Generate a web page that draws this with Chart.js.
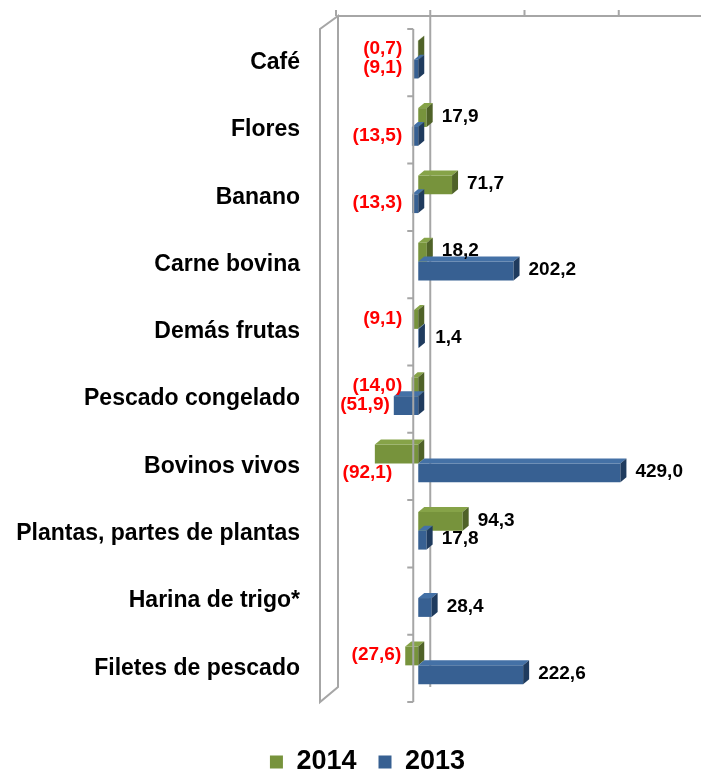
<!DOCTYPE html>
<html>
<head>
<meta charset="utf-8">
<script src="https://cdn.jsdelivr.net/npm/chart.js@4.4.0/dist/chart.umd.min.js"></script>
<style>
  body { margin: 0; background: #fff; }
  #wrap { width: 701px; height: 777px; }
</style>
</head>
<body>
<div id="wrap"><canvas id="exports-chart"></canvas></div>
<script>
const categories = ['Café', 'Flores', 'Banano', 'Carne bovina', 'Demás frutas', 'Pescado congelado',
    'Bovinos vivos', 'Plantas, partes de plantas', 'Harina de trigo*', 'Filetes de pescado'];
const values2014 = [-0.7, 17.9, 71.7, 18.2, -9.1, -14.0, -92.1, 94.3, null, -27.6];
const values2013 = [-9.1, -13.5, -13.3, 202.2, 1.4, -51.9, 429.0, 17.8, 28.4, 222.6];
const valueTicks = [-200, 0, 200, 400];

const FONT = 'Arial, "Liberation Sans", sans-serif';
const GRAY = '#a6a6a6';

// colours per series: front face, top face, end face
const shades = [
    { front: '#77933c', top: '#86a348', side: '#4f6228' },
    { front: '#376092', top: '#4471a6', side: '#1f3b5e' },
];

// 1,4 / (13,5)
const formatValue = (v) => {
    const txt = Math.abs(v).toFixed(1).replace('.', ',');
    return v < 0 ? `(${txt})` : txt;
}

const bar3d = {
    id: 'bar3d',
    afterLayout(chart) {
        // legend sits a little right of the canvas centre
        chart.legend.left += 17;
        chart.legend.right += 17;
    },
    beforeDatasetsDraw(chart) {
        const { ctx, chartArea, scales: { x } } = chart;
        const zero = x.getPixelForValue(0);
        const wallFront = chartArea.left - 4;
        const wallBack = x.getPixelForValue(-200) + 14;
        const backTop = chartArea.top - 13;
        const backBottom = chartArea.bottom - 15;

        ctx.save();
        ctx.strokeStyle = GRAY;
        ctx.lineWidth = 2;

        // left wall
        ctx.beginPath();
        ctx.moveTo(wallFront, chartArea.bottom);
        ctx.lineTo(wallFront, chartArea.top);
        ctx.lineTo(wallBack, backTop);
        ctx.lineTo(wallBack, backBottom);
        ctx.closePath();
        ctx.stroke();

        // top edge of the back wall with its ticks
        ctx.beginPath();
        ctx.moveTo(wallBack, backTop);
        ctx.lineTo(chartArea.right, backTop);
        for (const t of valueTicks) {
            const px = x.getPixelForValue(t) + 12;
            ctx.moveTo(px, backTop);
            ctx.lineTo(px, backTop - 6);
        }
        ctx.stroke();

        // zero line on the back wall
        ctx.beginPath();
        ctx.moveTo(zero + 12, backTop);
        ctx.lineTo(zero + 12, backBottom);
        ctx.stroke();
        ctx.restore();

        ctx.save();
        ctx.translate(0, -3);
    },
    afterDatasetsDraw(chart) {
        const { ctx } = chart;
        const dx = 6, dy = -5;

        chart.data.datasets.forEach((ds, di) => {
            const meta = chart.getDatasetMeta(di);
            const c = shades[di];
            meta.data.forEach((bar, i) => {
                if (ds.data[i] === null) return;
                const { x, y, base, height } = bar.getProps(['x', 'y', 'base', 'height'], true);
                const left = Math.min(x, base);
                const right = Math.max(x, base);
                const top = y - height / 2;
                const bottom = y + height / 2;

                ctx.fillStyle = c.top;
                ctx.beginPath();
                ctx.moveTo(left, top);
                ctx.lineTo(right, top);
                ctx.lineTo(right + dx, top + dy);
                ctx.lineTo(left + dx, top + dy);
                ctx.closePath();
                ctx.fill();

                ctx.fillStyle = c.side;
                ctx.beginPath();
                ctx.moveTo(right, top);
                ctx.lineTo(right + dx, top + dy);
                ctx.lineTo(right + dx, bottom + dy);
                ctx.lineTo(right, bottom);
                ctx.closePath();
                ctx.fill();
            });
        });

        // value labels
        ctx.font = `bold 19px ${FONT}`;
        ctx.textBaseline = 'middle';
        chart.data.datasets.forEach((ds, di) => {
            const meta = chart.getDatasetMeta(di);
            meta.data.forEach((bar, i) => {
                const v = ds.data[i];
                if (v === null) return;
                const { x, y, base, height } = bar.getProps(['x', 'y', 'base', 'height'], true);
                if (v >= 0) {
                    ctx.fillStyle = '#000';
                    ctx.textAlign = 'left';
                    ctx.fillText(formatValue(v), Math.max(x + 15, base + 17), y - 1);
                } else if (base - x > 40) {
                    ctx.fillStyle = '#ff0000';
                    ctx.textAlign = 'right';
                    ctx.fillText(formatValue(v), base - 26, y + height);
                } else {
                    ctx.fillStyle = '#ff0000';
                    ctx.textAlign = 'right';
                    ctx.fillText(formatValue(v), Math.min(base - 16, x - 4), y - 1);
                }
            });
        });
        ctx.restore();

        // front category axis
        const { chartArea, scales } = chart;
        const axisX = scales.x.getPixelForValue(0) - 5;
        const step = scales.y.getPixelForValue(1) - scales.y.getPixelForValue(0);
        ctx.save();
        ctx.strokeStyle = GRAY;
        ctx.lineWidth = 2;
        ctx.beginPath();
        ctx.moveTo(axisX, chartArea.top);
        ctx.lineTo(axisX, chartArea.bottom);
        for (let i = 0; i <= categories.length; i++) {
            const py = scales.y.getPixelForValue(0) - step / 2 + i * step;
            ctx.moveTo(axisX, py);
            ctx.lineTo(axisX - 6, py);
        }
        ctx.stroke();
        ctx.restore();
    }
}

new Chart(document.getElementById('exports-chart'), {
    type: 'bar',
    data: {
        labels: categories,
        datasets: [{
            label: '2014',
            data: values2014,
            backgroundColor: shades[0].front,
            categoryPercentage: 0.56,
            barPercentage: 1,
        }, {
            label: '2013',
            data: values2013,
            backgroundColor: shades[1].front,
            categoryPercentage: 0.56,
            barPercentage: 1,
        }]
    },
    options: {
        indexAxis: 'y',
        responsive: true,
        maintainAspectRatio: false,
        animation: false,
        layout: {
            padding: { top: 29, right: 0, bottom: -8.5, left: 0 },
        },
        plugins: {
            legend: {
                position: 'bottom',
                labels: {
                    boxWidth: 13,
                    boxHeight: 13,
                    padding: 22,
                    color: '#000',
                    font: { family: FONT, size: 27, weight: 'bold' },
                }
            },
            tooltip: { enabled: false },
        },
        scales: {
            x: {
                min: -200,
                max: 600,
                grid: { display: false },
                border: { display: false },
                ticks: { display: false },
                afterFit(scale) {
                    // empty strip between the plot and the legend
                    scale.height = 24.5;
                }
            },
            y: {
                grid: { display: false },
                border: { display: false },
                ticks: {
                    padding: 16,
                    color: '#000',
                    font: { family: FONT, size: 23, weight: 'bold' },
                },
                afterFit(scale) {
                    scale.width = 324;
                    scale.paddingTop = 0;
                    scale.paddingBottom = 0;
                }
            }
        }
    },
    plugins: [bar3d]
});
</script>
</body>
</html>
